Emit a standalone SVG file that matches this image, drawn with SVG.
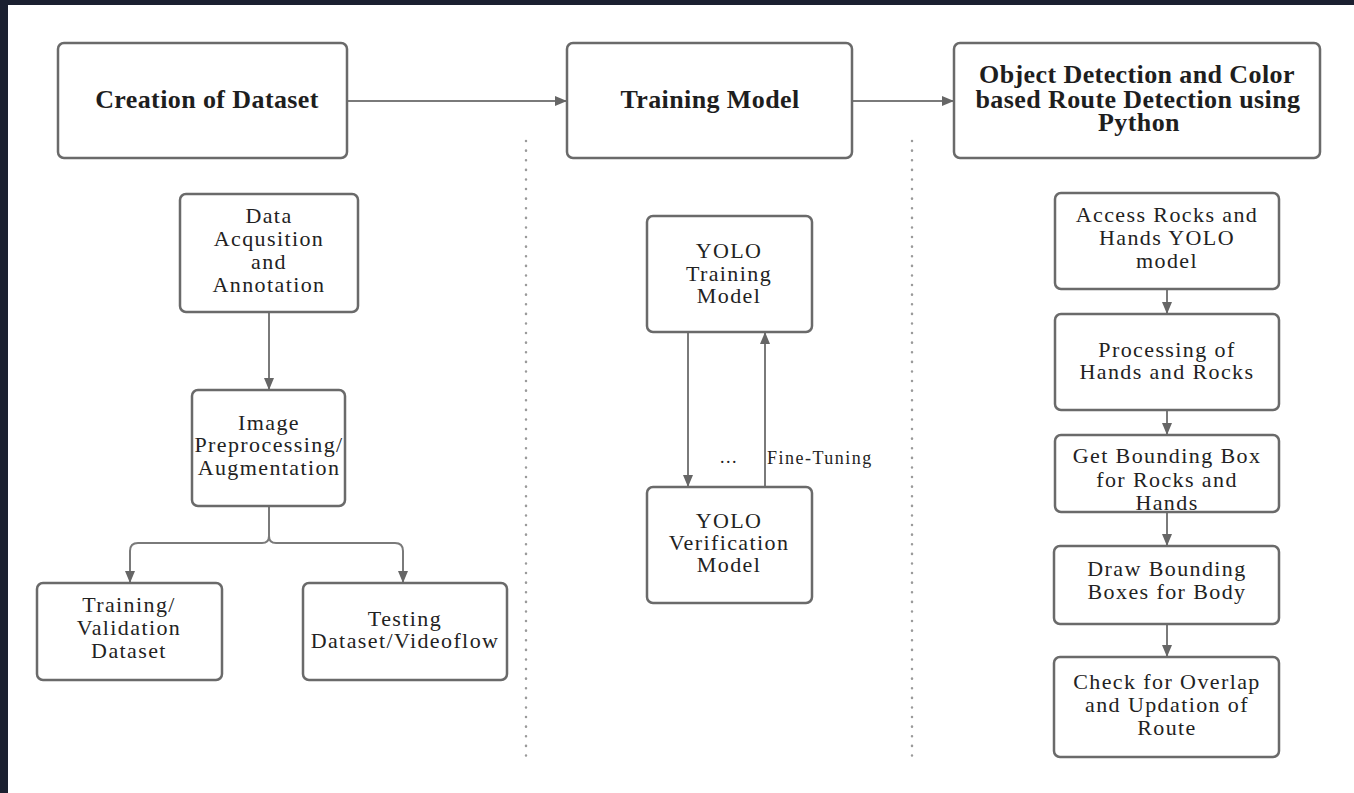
<svg xmlns="http://www.w3.org/2000/svg" width="1354" height="793" viewBox="0 0 1354 793">
  <defs>
    <style>
      .box { fill: #ffffff; stroke: #6a6a6a; stroke-width: 2.5; }
      .line { fill: none; stroke: #7a7a7a; stroke-width: 2; }
      .sep { fill: none; stroke: #9a9a9a; stroke-width: 2.5; stroke-dasharray: 0.1 9.5; stroke-linecap: round; }
      .head { font-family: "Liberation Serif", "Times New Roman", serif; font-weight: bold; font-size: 26px; letter-spacing: 0.4px; fill: #1e1e1e; text-anchor: middle; }
      .txt { font-family: "Liberation Serif", "Times New Roman", serif; font-size: 22px; letter-spacing: 1.4px; fill: #222222; text-anchor: middle; }
      .small { font-family: "Liberation Serif", "Times New Roman", serif; font-size: 18px; letter-spacing: 1.5px; fill: #222222; }
    </style>
    <marker id="arrow" viewBox="0 0 12 10" refX="11" refY="5" markerWidth="12" markerHeight="10" markerUnits="userSpaceOnUse" orient="auto">
      <path d="M0,0 L12,5 L0,10 Z" fill="#666666"/>
    </marker>
  </defs>

  <!-- page -->
  <rect x="0" y="0" width="1354" height="793" fill="#ffffff"/>
  <rect x="0" y="0" width="1354" height="5" fill="#1b2030"/>
  <rect x="0" y="0" width="8" height="793" fill="#1b2030"/>

  <!-- column separators -->
  <g id="separators">
    <line class="sep" x1="526" y1="141" x2="526" y2="757"/>
    <line class="sep" x1="912" y1="141" x2="912" y2="757"/>
  </g>

  <!-- connectors -->
  <g id="connectors">
    <line class="line" x1="347" y1="101" x2="566" y2="101" marker-end="url(#arrow)"/>
    <line class="line" x1="852" y1="101" x2="953" y2="101" marker-end="url(#arrow)"/>

    <line class="line" x1="269" y1="312" x2="269" y2="389" marker-end="url(#arrow)"/>
    <path class="line" d="M269,506 V536 Q269,543 262,543 H138 Q130,543 130,551 V582" marker-end="url(#arrow)"/>
    <path class="line" d="M269,536 Q269,543 276,543 H395 Q403,543 403,551 V582" marker-end="url(#arrow)"/>

    <line class="line" x1="688" y1="332" x2="688" y2="486" marker-end="url(#arrow)"/>
    <line class="line" x1="765" y1="486" x2="765" y2="333" marker-end="url(#arrow)"/>

    <line class="line" x1="1167" y1="289" x2="1167" y2="313" marker-end="url(#arrow)"/>
    <line class="line" x1="1167" y1="410" x2="1167" y2="434" marker-end="url(#arrow)"/>
    <line class="line" x1="1167" y1="512" x2="1167" y2="545" marker-end="url(#arrow)"/>
    <line class="line" x1="1167" y1="624" x2="1167" y2="656" marker-end="url(#arrow)"/>
  </g>

  <!-- stage headers -->
  <g id="creation-of-dataset">
    <rect class="box" x="58" y="43" width="289" height="115" rx="6"/>
    <text class="head" x="207" y="108">Creation of Dataset</text>
  </g>
  <g id="training-model">
    <rect class="box" x="567" y="43" width="285" height="115" rx="6"/>
    <text class="head" x="710" y="108">Training Model</text>
  </g>
  <g id="object-detection">
    <rect class="box" x="954" y="43" width="366" height="115" rx="6"/>
    <text class="head" x="1137" y="83">Object Detection and Color</text>
    <text class="head" x="1138" y="108">based Route Detection using</text>
    <text class="head" x="1139" y="131">Python</text>
  </g>

  <!-- dataset column -->
  <g id="data-acquisition">
    <rect class="box" x="180" y="194" width="178" height="118" rx="6"/>
    <text class="txt" x="269" y="223">Data</text>
    <text class="txt" x="269" y="246">Acqusition</text>
    <text class="txt" x="269" y="269">and</text>
    <text class="txt" x="269" y="292">Annotation</text>
  </g>
  <g id="image-preprocessing">
    <rect class="box" x="192" y="390" width="153" height="116" rx="6"/>
    <text class="txt" x="269" y="430">Image</text>
    <text class="txt" x="269" y="452">Preprocessing/</text>
    <text class="txt" x="269" y="475">Augmentation</text>
  </g>
  <g id="training-validation">
    <rect class="box" x="37" y="583" width="185" height="97" rx="6"/>
    <text class="txt" x="129" y="612">Training/</text>
    <text class="txt" x="129" y="635">Validation</text>
    <text class="txt" x="129" y="658">Dataset</text>
  </g>
  <g id="testing-dataset">
    <rect class="box" x="303" y="583" width="204" height="97" rx="6"/>
    <text class="txt" x="405" y="626">Testing</text>
    <text class="txt" x="405" y="648">Dataset/Videoflow</text>
  </g>

  <!-- training column -->
  <g id="yolo-training">
    <rect class="box" x="647" y="216" width="165" height="116" rx="6"/>
    <text class="txt" x="729" y="258">YOLO</text>
    <text class="txt" x="729" y="281">Training</text>
    <text class="txt" x="729" y="303">Model</text>
  </g>
  <g id="yolo-verification">
    <rect class="box" x="647" y="487" width="165" height="116" rx="6"/>
    <text class="txt" x="729" y="528">YOLO</text>
    <text class="txt" x="729" y="550">Verification</text>
    <text class="txt" x="729" y="572">Model</text>
  </g>
  <g id="fine-tuning-label">
    <text class="small" x="720" y="463">...</text>
    <text class="small" x="767" y="464">Fine-Tuning</text>
  </g>

  <!-- detection column -->
  <g id="access-model">
    <rect class="box" x="1055" y="193" width="224" height="96" rx="6"/>
    <text class="txt" x="1167" y="222">Access Rocks and</text>
    <text class="txt" x="1167" y="245">Hands YOLO</text>
    <text class="txt" x="1167" y="268">model</text>
  </g>
  <g id="processing">
    <rect class="box" x="1055" y="314" width="224" height="96" rx="6"/>
    <text class="txt" x="1167" y="357">Processing of</text>
    <text class="txt" x="1167" y="379">Hands and Rocks</text>
  </g>
  <g id="bounding-box">
    <rect class="box" x="1055" y="435" width="224" height="77" rx="6"/>
    <text class="txt" x="1167" y="463">Get Bounding Box</text>
    <text class="txt" x="1167" y="487">for Rocks and</text>
    <text class="txt" x="1167" y="510">Hands</text>
  </g>
  <g id="draw-boxes">
    <rect class="box" x="1054" y="546" width="225" height="78" rx="6"/>
    <text class="txt" x="1167" y="576">Draw Bounding</text>
    <text class="txt" x="1167" y="599">Boxes for Body</text>
  </g>
  <g id="check-overlap">
    <rect class="box" x="1054" y="657" width="225" height="100" rx="6"/>
    <text class="txt" x="1167" y="689">Check for Overlap</text>
    <text class="txt" x="1167" y="712">and Updation of</text>
    <text class="txt" x="1167" y="735">Route</text>
  </g>
</svg>
